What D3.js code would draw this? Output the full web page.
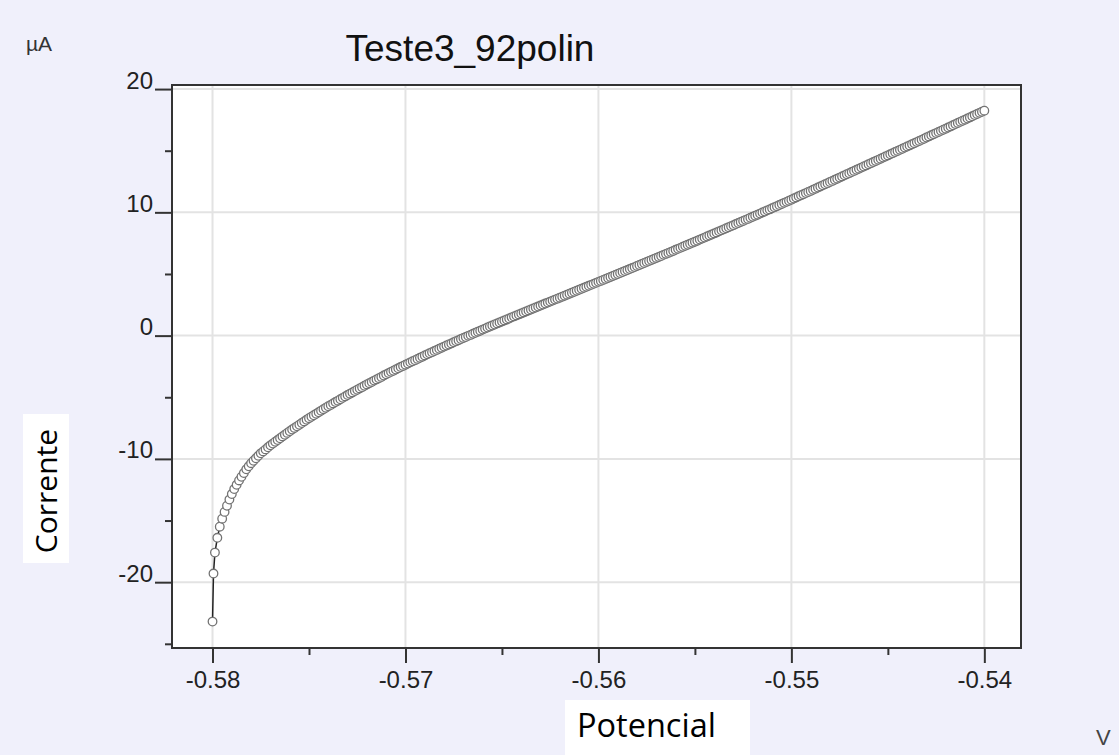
<!DOCTYPE html>
<html><head><meta charset="utf-8">
<script src="https://cdn.jsdelivr.net/npm/d3@7"></script>
<style>
html,body{margin:0;padding:0;background:#f0f0fb;}
svg{display:block;}
</style></head><body>
<svg id="chart" width="1119" height="755"></svg>
<script>
const chartTitle = "Teste3_92polin";
const yUnit = "µA";
const xUnit = "V";
const yLabel = "Corrente";
const xLabel = "Potencial";
const xTicks = [-0.58, -0.57, -0.56, -0.55, -0.54];
const xMinorTicks = [-0.575, -0.565, -0.555, -0.545];
const yTicks = [20, 10, 0, -10, -20];
const yMinorTicks = [15, 5, -5, -15, -25];

// Potencial (V)
const potential = [
-0.58, -0.57995,
-0.579875,-0.57975,-0.579625,-0.5795,-0.579375,-0.57925,-0.579125,-0.579,
-0.578875,-0.57875,-0.578625,-0.5785,-0.578375,-0.57825,-0.578125,-0.578,
-0.577875,-0.57775,-0.577625,-0.5775,-0.577375,-0.57725,-0.577125,-0.577,
-0.576875,-0.57675,-0.576625,-0.5765,-0.576375,-0.57625,-0.576125,-0.576,
-0.575875,-0.57575,-0.575625,-0.5755,-0.575375,-0.57525,-0.575125,-0.575,
-0.574875,-0.57475,-0.574625,-0.5745,-0.574375,-0.57425,-0.574125,-0.574,
-0.573875,-0.57375,-0.573625,-0.5735,-0.573375,-0.57325,-0.573125,-0.573,
-0.572875,-0.57275,-0.572625,-0.5725,-0.572375,-0.57225,-0.572125,-0.572,
-0.571875,-0.57175,-0.571625,-0.5715,-0.571375,-0.57125,-0.571125,-0.571,
-0.570875,-0.57075,-0.570625,-0.5705,-0.570375,-0.57025,-0.570125,-0.570,
-0.569875,-0.56975,-0.569625,-0.5695,-0.569375,-0.56925,-0.569125,-0.569,
-0.568875,-0.56875,-0.568625,-0.5685,-0.568375,-0.56825,-0.568125,-0.568,
-0.567875,-0.56775,-0.567625,-0.5675,-0.567375,-0.56725,-0.567125,-0.567,
-0.566875,-0.56675,-0.566625,-0.5665,-0.566375,-0.56625,-0.566125,-0.566,
-0.565875,-0.56575,-0.565625,-0.5655,-0.565375,-0.56525,-0.565125,-0.565,
-0.564875,-0.56475,-0.564625,-0.5645,-0.564375,-0.56425,-0.564125,-0.564,
-0.563875,-0.56375,-0.563625,-0.5635,-0.563375,-0.56325,-0.563125,-0.563,
-0.562875,-0.56275,-0.562625,-0.5625,-0.562375,-0.56225,-0.562125,-0.562,
-0.561875,-0.56175,-0.561625,-0.5615,-0.561375,-0.56125,-0.561125,-0.561,
-0.560875,-0.56075,-0.560625,-0.5605,-0.560375,-0.56025,-0.560125,-0.560,
-0.559875,-0.55975,-0.559625,-0.5595,-0.559375,-0.55925,-0.559125,-0.559,
-0.558875,-0.55875,-0.558625,-0.5585,-0.558375,-0.55825,-0.558125,-0.558,
-0.557875,-0.55775,-0.557625,-0.5575,-0.557375,-0.55725,-0.557125,-0.557,
-0.556875,-0.55675,-0.556625,-0.5565,-0.556375,-0.55625,-0.556125,-0.556,
-0.555875,-0.55575,-0.555625,-0.5555,-0.555375,-0.55525,-0.555125,-0.555,
-0.554875,-0.55475,-0.554625,-0.5545,-0.554375,-0.55425,-0.554125,-0.554,
-0.553875,-0.55375,-0.553625,-0.5535,-0.553375,-0.55325,-0.553125,-0.553,
-0.552875,-0.55275,-0.552625,-0.5525,-0.552375,-0.55225,-0.552125,-0.552,
-0.551875,-0.55175,-0.551625,-0.5515,-0.551375,-0.55125,-0.551125,-0.551,
-0.550875,-0.55075,-0.550625,-0.5505,-0.550375,-0.55025,-0.550125,-0.550,
-0.549875,-0.54975,-0.549625,-0.5495,-0.549375,-0.54925,-0.549125,-0.549,
-0.548875,-0.54875,-0.548625,-0.5485,-0.548375,-0.54825,-0.548125,-0.548,
-0.547875,-0.54775,-0.547625,-0.5475,-0.547375,-0.54725,-0.547125,-0.547,
-0.546875,-0.54675,-0.546625,-0.5465,-0.546375,-0.54625,-0.546125,-0.546,
-0.545875,-0.54575,-0.545625,-0.5455,-0.545375,-0.54525,-0.545125,-0.545,
-0.544875,-0.54475,-0.544625,-0.5445,-0.544375,-0.54425,-0.544125,-0.544,
-0.543875,-0.54375,-0.543625,-0.5435,-0.543375,-0.54325,-0.543125,-0.543,
-0.542875,-0.54275,-0.542625,-0.5425,-0.542375,-0.54225,-0.542125,-0.542,
-0.541875,-0.54175,-0.541625,-0.5415,-0.541375,-0.54125,-0.541125,-0.541,
-0.540875,-0.54075,-0.540625,-0.5405,-0.540375,-0.54025,-0.540125,-0.540
];

// Corrente (µA)
const current = [
-23.2, -19.3,
-17.6,-16.4,-15.5,-14.85,-14.3,-13.8,-13.3,-12.85,
-12.45,-12.1,-11.75,-11.45,-11.15,-10.85,-10.6,-10.35,
-10.15,-9.95,-9.75,-9.55,-9.39,-9.23,-9.06,-8.9,
-8.76,-8.61,-8.47,-8.33,-8.18,-8.04,-7.89,-7.75,
-7.62,-7.49,-7.36,-7.23,-7.09,-6.96,-6.83,-6.7,
-6.58,-6.46,-6.34,-6.22,-6.09,-5.97,-5.85,-5.73,
-5.62,-5.5,-5.39,-5.28,-5.16,-5.05,-4.93,-4.82,
-4.71,-4.61,-4.5,-4.39,-4.28,-4.18,-4.07,-3.96,
-3.86,-3.76,-3.65,-3.55,-3.45,-3.35,-3.24,-3.14,
-3.04,-2.94,-2.85,-2.75,-2.65,-2.55,-2.46,-2.36,
-2.27,-2.17,-2.08,-1.99,-1.89,-1.8,-1.71,-1.61,
-1.52,-1.43,-1.34,-1.25,-1.16,-1.07,-0.98,-0.89,
-0.8,-0.72,-0.63,-0.54,-0.45,-0.37,-0.28,-0.19,
-0.11,-0.02,0.06,0.15,0.23,0.32,0.4,0.49,
0.57,0.66,0.74,0.82,0.9,0.99,1.07,1.15,
1.23,1.31,1.39,1.48,1.56,1.64,1.72,1.8,
1.88,1.96,2.04,2.12,2.2,2.28,2.36,2.44,
2.52,2.6,2.68,2.76,2.84,2.92,3.0,3.08,
3.16,3.24,3.32,3.4,3.48,3.56,3.64,3.72,
3.8,3.88,3.96,4.04,4.12,4.2,4.28,4.36,
4.44,4.52,4.6,4.68,4.76,4.84,4.92,5.0,
5.08,5.16,5.24,5.32,5.4,5.48,5.56,5.65,
5.73,5.81,5.89,5.98,6.06,6.14,6.22,6.3,
6.38,6.46,6.55,6.63,6.71,6.79,6.87,6.96,
7.04,7.12,7.21,7.29,7.37,7.45,7.54,7.62,
7.7,7.79,7.87,7.95,8.04,8.12,8.2,8.29,
8.37,8.46,8.54,8.62,8.71,8.79,8.88,8.96,
9.05,9.13,9.22,9.3,9.39,9.47,9.56,9.64,
9.73,9.81,9.9,9.99,10.07,10.16,10.24,10.33,
10.42,10.5,10.59,10.68,10.77,10.85,10.94,11.03,
11.12,11.21,11.3,11.39,11.47,11.56,11.65,11.74,
11.83,11.92,12.01,12.1,12.19,12.28,12.37,12.46,
12.55,12.64,12.73,12.82,12.91,13.0,13.09,13.18,
13.27,13.36,13.45,13.54,13.63,13.72,13.81,13.9,
13.99,14.08,14.17,14.26,14.35,14.44,14.53,14.62,
14.71,14.8,14.89,14.98,15.07,15.16,15.25,15.34,
15.43,15.52,15.61,15.7,15.79,15.88,15.97,16.07,
16.16,16.25,16.34,16.43,16.52,16.61,16.7,16.79,
16.88,16.97,17.06,17.16,17.25,17.34,17.43,17.52,
17.61,17.7,17.79,17.89,17.98,18.07,18.16,18.25
];

const data = potential.map((p, i) => ({x: p, y: current[i]}));

const svg = d3.select("#chart");
const W = 1119, H = 755;
svg.append("rect").attr("width", W).attr("height", H).attr("fill", "#f0f0fb");

const plot = {left: 172, top: 85, right: 1021, bottom: 648};
const x = d3.scaleLinear().domain([-0.5821, -0.5381]).range([plot.left, plot.right]);
const y = d3.scaleLinear().domain([-25.34, 20.33]).range([plot.bottom, plot.top]);

// plot background
svg.append("rect")
  .attr("x", plot.left).attr("y", plot.top)
  .attr("width", plot.right - plot.left).attr("height", plot.bottom - plot.top)
  .attr("fill", "#ffffff");

// gridlines
const grid = svg.append("g").attr("stroke", "#e3e3e3").attr("stroke-width", 2);
grid.selectAll("line.vx").data(xTicks).join("line")
  .attr("x1", d => x(d)).attr("x2", d => x(d))
  .attr("y1", plot.top).attr("y2", plot.bottom);
grid.selectAll("line.hy").data(yTicks).join("line")
  .attr("class", "hy")
  .attr("x1", plot.left).attr("x2", plot.right)
  .attr("y1", d => y(d)).attr("y2", d => y(d));

const tickFont = "'Liberation Sans', Arial, sans-serif";

// x axis
const xAxis = svg.append("g").attr("transform", `translate(0,${plot.bottom})`)
  .call(d3.axisBottom(x).tickValues(xTicks).tickSize(15).tickPadding(8)
        .tickFormat(d3.format(".2f")));
xAxis.select(".domain").remove();
xAxis.selectAll(".tick line").attr("stroke", "#333").attr("stroke-width", 2);
xAxis.selectAll(".tick text").attr("font-family", tickFont).attr("font-size", 24)
  .attr("fill", "#222").text(d => d3.format(".2f")(d).replace("−", "-"));
const xMinor = svg.append("g").attr("transform", `translate(0,${plot.bottom})`)
  .call(d3.axisBottom(x).tickValues(xMinorTicks).tickSize(7).tickFormat(""));
xMinor.select(".domain").remove();
xMinor.selectAll(".tick line").attr("stroke", "#333").attr("stroke-width", 2);

// y axis
const yAxis = svg.append("g").attr("transform", `translate(${plot.left},0)`)
  .call(d3.axisLeft(y).tickValues(yTicks).tickSize(17).tickPadding(2)
        .tickFormat(d3.format("d")));
yAxis.select(".domain").remove();
yAxis.selectAll(".tick line").attr("stroke", "#333").attr("stroke-width", 2);
yAxis.selectAll(".tick text").attr("font-family", tickFont).attr("font-size", 24)
  .attr("fill", "#222").attr("dy", "-1").text(d => String(d));
const yMinor = svg.append("g").attr("transform", `translate(${plot.left},0)`)
  .call(d3.axisLeft(y).tickValues(yMinorTicks).tickSize(7).tickFormat(""));
yMinor.select(".domain").remove();
yMinor.selectAll(".tick line").attr("stroke", "#333").attr("stroke-width", 2);

// frame
svg.append("rect")
  .attr("x", plot.left).attr("y", plot.top)
  .attr("width", plot.right - plot.left).attr("height", plot.bottom - plot.top)
  .attr("fill", "none").attr("stroke", "#333").attr("stroke-width", 2);

// data line + markers
const line = d3.line().x(d => x(d.x)).y(d => y(d.y));
svg.append("path").datum(data).attr("d", line)
  .attr("fill", "none").attr("stroke", "#222").attr("stroke-width", 1.5);
svg.append("g").selectAll("circle").data(data).join("circle")
  .attr("cx", d => x(d.x)).attr("cy", d => y(d.y)).attr("r", 4.3)
  .attr("fill", "#ffffff").attr("stroke", "#737373").attr("stroke-width", 1.3);

// title
svg.append("text").attr("x", 470).attr("y", 61).attr("text-anchor", "middle")
  .attr("font-family", tickFont).attr("font-size", 37).attr("fill", "#111")
  .text(chartTitle);

// units
svg.append("text").attr("x", 26).attr("y", 51)
  .attr("font-family", tickFont).attr("font-size", 21).attr("fill", "#333")
  .text(yUnit);
svg.append("text").attr("x", 1096).attr("y", 745)
  .attr("font-family", tickFont).attr("font-size", 22).attr("fill", "#444")
  .text(xUnit);

// axis labels in white boxes
svg.append("rect").attr("x", 23).attr("y", 414).attr("width", 46).attr("height", 149)
  .attr("fill", "#ffffff");
svg.append("text").attr("transform", "translate(57,491) rotate(-90)")
  .attr("text-anchor", "middle").attr("font-family", "'Open Sans', 'Noto Sans', sans-serif")
  .attr("font-size", 30).attr("fill", "#000").text(yLabel);

svg.append("rect").attr("x", 565).attr("y", 700).attr("width", 185).attr("height", 55)
  .attr("fill", "#ffffff");
svg.append("text").attr("x", 577).attr("y", 737)
  .attr("font-family", "'Open Sans', 'Noto Sans', sans-serif")
  .attr("font-size", 32.5).attr("fill", "#000").text(xLabel);
</script>
</body></html>
